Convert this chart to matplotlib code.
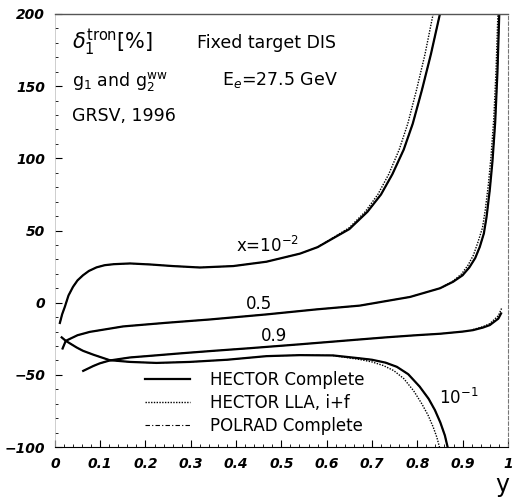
"""Radiative correction delta_1^tron for fixed target DIS, redrawn."""

import matplotlib

matplotlib.use("Agg")
import matplotlib.pyplot as plt

# x = 10^-2, HECTOR complete (also POLRAD complete)
X1E2_Y = [0.011, 0.016, 0.022, 0.030, 0.040, 0.050, 0.062, 0.075, 0.092, 0.110,
          0.130, 0.166, 0.210, 0.260, 0.320, 0.394, 0.467, 0.541, 0.580, 0.614,
          0.650, 0.690, 0.720, 0.745, 0.770, 0.790, 0.810, 0.830, 0.850]
X1E2_D = [-14, -8, -2.8, 5, 11, 15.5, 19, 22, 24.5, 26,
          26.7, 27.2, 26.5, 25.4, 24.4, 25.4, 28.4, 34, 38.5, 44.6,
          51, 63, 75, 89, 106, 124, 147, 172, 200]
# x = 10^-2, HECTOR LLA
X1E2_LLA_Y = [0.580, 0.614, 0.650, 0.685, 0.713, 0.737, 0.760, 0.779, 0.798,
              0.817, 0.835]
X1E2_LLA_D = [38.6, 45, 52, 63, 75, 89, 106, 124, 147, 172, 200]

# x = 0.5
X05_Y = [0.017, 0.024, 0.050, 0.077, 0.151, 0.246, 0.342, 0.467, 0.578, 0.673,
         0.784, 0.850, 0.879, 0.900, 0.915, 0.928, 0.938, 0.947, 0.953, 0.960,
         0.966, 0.972, 0.977, 0.981]
X05_D = [-31.7, -26.4, -22.5, -20.2, -16.4, -13.9, -11.6, -8.1, -4.6, -2.0,
         4, 10, 14.5, 19, 24.5, 31, 38.7, 48, 59.5, 78,
         98, 125, 160, 200]
X05_LLA_Y = [0.850, 0.879, 0.898, 0.912, 0.924, 0.934, 0.944, 0.950, 0.957,
             0.963, 0.969, 0.974, 0.978]
X05_LLA_D = [10, 15, 20, 26, 33, 42, 52, 64, 82, 102, 128, 162, 200]

# x = 0.9
X09_Y = [0.0625, 0.085, 0.099, 0.121, 0.166, 0.202, 0.276, 0.342, 0.430, 0.541,
         0.651, 0.730, 0.798, 0.850, 0.900, 0.923, 0.945, 0.960, 0.979, 0.985]
X09_D = [-47.2, -43.8, -42, -40, -37.9, -37, -35.1, -33.5, -31.5, -28.8,
         -26, -24, -22.5, -21.5, -20, -19, -17.2, -15.5, -11, -7.4]
X09_LLA_Y = [0.923, 0.945, 0.960, 0.979, 0.986]
X09_LLA_D = [-18.6, -16.6, -14.5, -9, -4]

# x = 10^-1
X1E1_Y = [0.015, 0.024, 0.048, 0.062, 0.085, 0.121, 0.166, 0.224, 0.298, 0.380,
          0.467, 0.541, 0.614, 0.673, 0.700, 0.730, 0.755, 0.780, 0.805, 0.825,
          0.839, 0.851, 0.861, 0.867]
X1E1_D = [-24, -26.4, -31, -33.3, -36, -39.8, -41, -41.7, -41, -39.5,
          -37, -36.3, -36.5, -38.5, -39.5, -41.5, -44.4, -49.5, -58, -66.5,
          -74.4, -83, -92, -100]
X1E1_LLA_Y = [0.614, 0.673, 0.700, 0.725, 0.748, 0.770, 0.792, 0.810, 0.824,
              0.835, 0.843, 0.849]
X1E1_LLA_D = [-36.6, -39.3, -41, -43.5, -47, -52.5, -61, -70, -78, -86, -93, -100]

CURVES = [
    (X1E2_Y, X1E2_D, X1E2_LLA_Y, X1E2_LLA_D),
    (X05_Y, X05_D, X05_LLA_Y, X05_LLA_D),
    (X09_Y, X09_D, X09_LLA_Y, X09_LLA_D),
    (X1E1_Y, X1E1_D, X1E1_LLA_Y, X1E1_LLA_D),
]

X_TICKS = [0, 0.1, 0.2, 0.3, 0.4, 0.5, 0.6, 0.7, 0.8, 0.9, 1]
X_TICK_LABELS = ["0", "0.1", "0.2", "0.3", "0.4", "0.5", "0.6", "0.7", "0.8", "0.9", "1"]
Y_TICKS = [-100, -50, 0, 50, 100, 150, 200]
LEGEND_LABELS = ["HECTOR Complete", "HECTOR LLA, i+f", "POLRAD Complete"]

plt.rcParams["font.family"] = ["DejaVu Sans"]

fig = plt.figure(figsize=(5.13, 4.99), dpi=100)
ax = fig.add_axes([0.107, 0.104, 0.883, 0.868])

for i, (ys, ds, lys, lds) in enumerate(CURVES):
    ax.plot(lys, lds, color="black", linestyle=(0, (1, 1)), linewidth=1.0,
            label=LEGEND_LABELS[1] if i == 0 else None)
    ax.plot(ys, ds, color="black", linestyle=(0, (4, 2, 1, 2)), linewidth=0.8,
            label=LEGEND_LABELS[2] if i == 0 else None)
    ax.plot(ys, ds, color="black", linewidth=1.6,
            label=LEGEND_LABELS[0] if i == 0 else None)

ax.set_xlim(0, 1)
ax.set_ylim(-100, 200)
ax.set_xticks(X_TICKS)
ax.set_xticklabels(X_TICK_LABELS)
ax.set_yticks(Y_TICKS)
ax.set_xticks([i / 50 for i in range(51)], minor=True)
ax.set_yticks(list(range(-100, 201, 10)), minor=True)
ax.tick_params(which="major", direction="in", length=5, width=0.8, pad=7,
               labelsize=10)
ax.tick_params(which="minor", direction="in", length=2.5, width=0.6)
ax.tick_params(top=False, right=False)
for lab in ax.get_xticklabels() + ax.get_yticklabels():
    lab.set_fontweight("bold")
    lab.set_fontstyle("italic")

ax.spines["left"].set_color("#bbbbbb")
ax.spines["left"].set_linewidth(0.5)
ax.spines["top"].set_color("#555555")
ax.spines["top"].set_linewidth(1.0)
ax.spines["right"].set_color("#777777")
ax.spines["right"].set_linestyle((0, (3, 2)))
ax.spines["right"].set_linewidth(0.8)
ax.spines["bottom"].set_linewidth(0.8)

handles, labels = ax.get_legend_handles_labels()
order = [labels.index(name) for name in LEGEND_LABELS]
ax.legend([handles[k] for k in order], [labels[k] for k in order],
          loc="center left", bbox_to_anchor=(0.2, 0.1016), frameon=False,
          fontsize=12, handlelength=2.7, handletextpad=1.2, labelspacing=0.3,
          borderpad=0, borderaxespad=0)

ax.text(0.0375, 0.935, r"$\delta_1^{\mathrm{tron}}$[%]", transform=ax.transAxes,
        fontsize=15, va="center", ha="left")
ax.text(0.313, 0.933, "Fixed target DIS", transform=ax.transAxes,
        fontsize=12.5, va="center", ha="left")
ax.text(0.0375, 0.843, r"g$_1$ and g$_2^{\mathrm{ww}}$", transform=ax.transAxes,
        fontsize=12.5, va="center", ha="left")
ax.text(0.369, 0.848, r"E$_e$=27.5 GeV", transform=ax.transAxes,
        fontsize=12.5, va="center", ha="left")
ax.text(0.0375, 0.764, "GRSV, 1996", transform=ax.transAxes,
        fontsize=12.5, va="center", ha="left")

ax.text(0.47, 39, r"x=10$^{-2}$", fontsize=12, ha="center", va="center")
ax.text(0.45, -1, "0.5", fontsize=12, ha="center", va="center")
ax.text(0.483, -23, "0.9", fontsize=12, ha="center", va="center")
ax.text(0.892, -66, r"10$^{-1}$", fontsize=12, ha="center", va="center")

fig.text(0.98, 0.028, "y", fontsize=17, ha="center", va="center")

fig.savefig("out.png", dpi=100)
